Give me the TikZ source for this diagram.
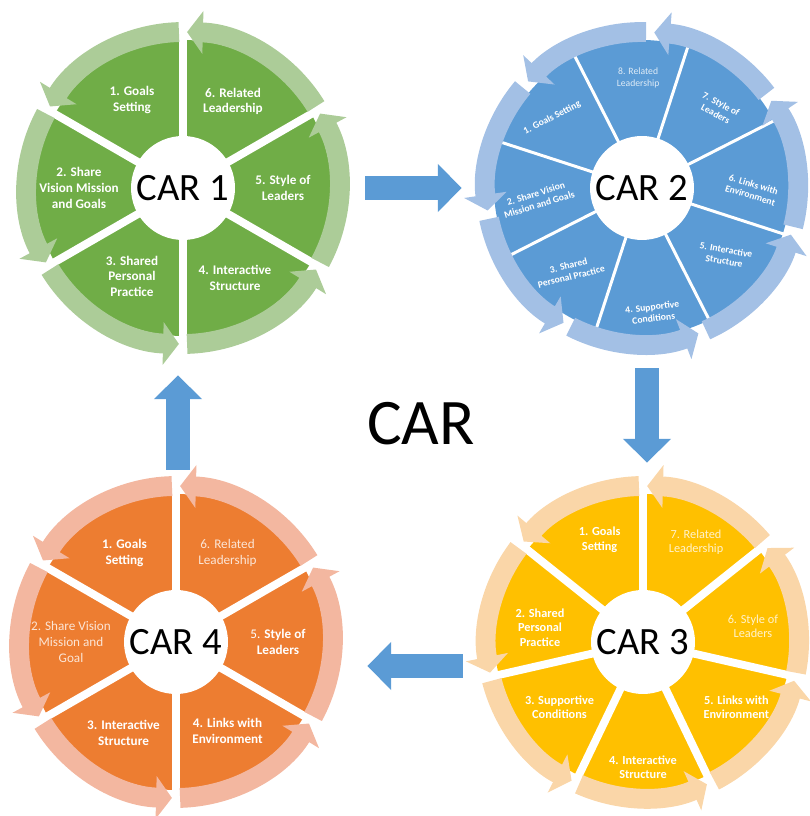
\documentclass[tikz,border=0pt]{standalone}
\usepackage{fontspec}
\setmainfont{Carlito}
\usetikzlibrary{arrows.meta}
\definecolor{greenpie}{RGB}{112,173,71}
\definecolor{greenring}{RGB}{172,204,152}
\definecolor{bluepie}{RGB}{91,155,213}
\definecolor{bluering}{RGB}{163,192,229}
\definecolor{yellowpie}{RGB}{255,192,0}
\definecolor{yellowring}{RGB}{250,214,168}
\definecolor{orangepie}{RGB}{237,125,49}
\definecolor{orangering}{RGB}{243,183,160}

\begin{document}
\begin{tikzpicture}[
  x=0.02cm, y=0.02cm,
  hub/.style={circle, fill=white, minimum size=2.08cm, inner sep=0pt, font=\fontsize{22}{24}\selectfont},
  part/.style={text=white, align=center, font=\fontsize{7.5}{9}\selectfont\bfseries},
  partsm/.style={part, font=\fontsize{7}{8.2}\selectfont\bfseries},
  partxs/.style={part, font=\fontsize{5.5}{6.5}\selectfont\bfseries},
  dimmed/.style={text opacity=0.8},
  ring/.style={line width=11.3pt, -{Triangle[length=9pt,width=24pt]}},
  spoke/.style={white, line width=4.5pt},
  bigarrow/.style={draw=bluepie, line width=14.2pt, -{Triangle[length=13.6pt,width=26.6pt]}}
]
\useasboundingbox (0,0) rectangle (810,816);

\begin{scope}[shift={(183,628)}]
\fill[greenpie] (0,0) circle[radius=148];
\foreach \a in {30,90,...,330} \draw[spoke] (0,0) -- (\a:150);
\foreach \a in {30,90,...,330} \draw[ring, greenring] (\a+1.5:156) arc[start angle=\a+1.5, delta angle=57, radius=156];
\node[hub] (car1) at (0,0) {CAR 1};
\node[part] (c1goals) at (120:102) {1. Goals\\Setting};
\node[part] (c1vision) at (180:104) {2. Share\\Vision Mission\\and Goals};
\node[part] (c1practice) at (240:102) {3. Shared\\Personal\\Practice};
\node[part] (c1structure) at (300:104) {4. Interactive\\Structure};
\node[part] (c1style) at (0:100) {5. Style of\\Leaders};
\node[part] (c1leader) at (60:100) {6. Related\\Leadership};
\end{scope}

\begin{scope}[shift={(642,628)}]
\fill[bluepie] (0,0) circle[radius=148];
\foreach \a in {27,72,...,342} \draw[spoke, line width=1.7pt] (0,0) -- (\a:150);
\foreach \a in {35.6,87,138.4,189.9,241.3,292.7,344.1} \draw[ring, bluering] (\a+1.5:156) arc[start angle=\a+1.5, delta angle=48.4, radius=156];
\node[hub] (car2) at (0,0) {CAR 2};
\node[partxs, rotate=27] (c2goals) at (142:114) {1. Goals Setting};
\node[partxs, rotate=17] (c2vision) at (186:105) {2. Share Vision\\Mission and Goals};
\node[partxs, rotate=14] (c2practice) at (229:110) {3. Shared\\Personal Practice};
\node[partxs, rotate=7] (c2support) at (275:125) {4. Supportive\\Conditions};
\node[partxs, rotate=-10] (c2structure) at (321:107) {5. Interactive\\Structure};
\node[partxs, rotate=-17] (c2links) at (359:110) {6. Links with\\Environment};
\node[partxs, rotate=-28] (c2style) at (46:110) {7. Style of\\Leaders};
\node[partxs, dimmed, font=\fontsize{5.5}{6.5}\selectfont] (c2leader) at (92:110) {8. Related\\Leadership};
\end{scope}

\begin{scope}[shift={(643,174)}]
\fill[yellowpie] (0,0) circle[radius=148];
\foreach \a in {38.57,90,141.43,192.86,244.29,295.71,347.14} \draw[spoke] (0,0) -- (\a:150);
\foreach \a in {38.57,90,141.43,192.86,244.29,295.71,347.14} \draw[ring, yellowring] (\a+1.5:156) arc[start angle=\a+1.5, delta angle=48.4, radius=156];
\node[hub] (car3) at (0,0) {CAR 3};
\node[partsm] (c3goals) at (113:111) {1. Goals\\Setting};
\node[partsm] (c3practice) at (172:104) {2. Shared\\Personal\\Practice};
\node[partsm] (c3support) at (218:106) {3. Supportive\\Conditions};
\node[partsm] (c3structure) at (270:125) {4. Interactive\\Structure};
\node[partsm] (c3links) at (325:114) {5. Links with\\Environment};
\node[partsm, dimmed, font=\fontsize{7}{8.2}\selectfont] (c3style) at (8:111) {6. Style of\\Leaders};
\node[partsm, dimmed, font=\fontsize{7}{8.2}\selectfont] (c3leader) at (62:113) {7. Related\\Leadership};
\end{scope}

\begin{scope}[shift={(176,174)}]
\fill[orangepie] (0,0) circle[radius=148];
\foreach \a in {30,90,...,330} \draw[spoke] (0,0) -- (\a:150);
\foreach \a in {30,90,...,330} \draw[ring, orangering] (\a+1.5:156) arc[start angle=\a+1.5, delta angle=57, radius=156];
\node[hub] (car4) at (0,0) {CAR 4};
\node[part] (c4goals) at (120:103) {1. Goals\\Setting};
\node[part, dimmed, font=\fontsize{7.5}{9}\selectfont] (c4vision) at (180:105) {2. Share Vision\\Mission and\\Goal};
\node[part] (c4structure) at (240:105) {3. Interactive\\Structure};
\node[part] (c4links) at (300:103) {4. Links with\\Environment};
\node[part] (c4style) at (0:102) {\textmd{5.} Style of\\Leaders};
\node[part, dimmed, font=\fontsize{7.5}{9}\selectfont] (c4leader) at (60:103) {6. Related\\Leadership};
\end{scope}

\node[font=\fontsize{37}{40}\selectfont] (title) at (421,392) {CAR};

\draw[bigarrow, shorten <=2.6cm, shorten >=2.56cm] (car1) -- (car2);
\draw[bigarrow, shorten <=2.56cm, shorten >=2.54cm] ([xshift=0.1cm]car2.south) -- ([xshift=0.1cm]car2.south |- car3.north);
\draw[bigarrow, shorten <=2.56cm, shorten >=2.78cm] ([yshift=-0.48cm]car3.west) -- ([yshift=-0.48cm]car4.east);
\draw[bigarrow, shorten <=2.4cm, shorten >=2.7cm] ([xshift=0.04cm]car4.north) -- ([xshift=0.04cm]car4.north |- car1.south);
\end{tikzpicture}
\end{document}
